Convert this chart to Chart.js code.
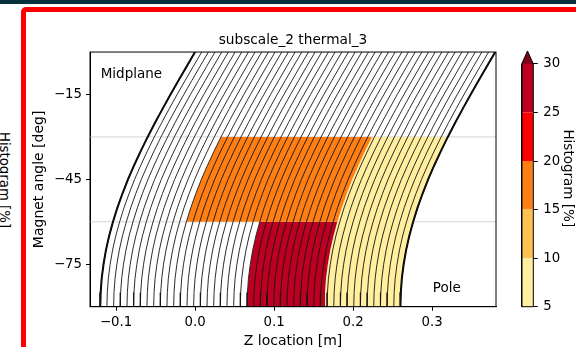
<!DOCTYPE html>
<html>
<head>
<meta charset="utf-8">
<script src="https://cdn.jsdelivr.net/npm/chart.js@4.4.1/dist/chart.umd.min.js"></script>
<style>
  html, body { margin: 0; padding: 0; }
  body { width: 576px; height: 347px; overflow: hidden; position: relative; background: #fff; font-family: 'DejaVu Sans', sans-serif; }
  #topbar { position: absolute; left: 0; top: 0; width: 576px; height: 4px; background: #07303d; }
  #frame { position: absolute; left: 21px; top: 7px; width: 600px; height: 400px; border: 5px solid #ff0000; border-radius: 5px; }
  #sidelabel { position: absolute; left: 4px; top: 180px; transform: translate(-50%, -50%) rotate(90deg); white-space: nowrap; font-size: 13.3px; color: #000; }
  #main { position: absolute; left: 0; top: 0; }
  #cbar { position: absolute; left: 500px; top: 0; }
</style>
</head>
<body>
<div id="topbar"></div>
<div id="frame"></div>
<div id="sidelabel">Histogram [%]</div>
<canvas id="main" width="576" height="350"></canvas>
<canvas id="cbar" width="76" height="347"></canvas>
<script>
// angle samples along each turn and the z shift of a turn at that angle
const angles = [0, -5, -10, -15, -20, -25, -30, -35, -40, -45, -50, -55, -60, -65, -70, -75, -80, -85, -90];
const arcShift = [0, -0.0105, -0.0208, -0.0311, -0.0410, -0.0507, -0.0600, -0.0688, -0.0771, -0.0849,
                  -0.0919, -0.0983, -0.1039, -0.1088, -0.1128, -0.1159, -0.1182, -0.1195, -0.1200];

// z position of each turn at the midplane (angle 0)
const turnPositions = [0, 0.0084, 0.0169, 0.0253, 0.0338, 0.0422, 0.0507, 0.0591, 0.0676, 0.0760,
  0.0844, 0.0929, 0.1013, 0.1098, 0.1182, 0.1267, 0.1351, 0.1436, 0.1520, 0.1604,
  0.1689, 0.1773, 0.1858, 0.1942, 0.2027, 0.2111, 0.2196, 0.2280, 0.2364, 0.2449,
  0.2533, 0.2618, 0.2702, 0.2787, 0.2871, 0.2956, 0.3040, 0.3124, 0.3209, 0.3293,
  0.3378, 0.3462, 0.3547, 0.3631, 0.3716, 0.3800];
const boundaryTurns = [0, 0.38];

// histogram regions (turn span and angle span)
const regionLeft = [0.093, 0.186, 0.284];
const regionRight = [0.284, 0.284, 0.38];
const regionTop = [-30, -60, -30];
const regionBottom = [-60, -90, -90];
const regionValue = [17.5, 27.5, 7.5];

const guideAngles = [-30, -60];
const xRange = [-0.133, 0.381];
const yRange = [-90, 0];
const xTicks = [-0.1, 0, 0.1, 0.2, 0.3];
const yTicks = [-15, -45, -75];

const annotationText = ['Midplane', 'Pole'];
const annotationX = [-0.1195, 0.301];
const annotationY = [-8.1, -83.5];

// colour bar
const binEdges = [5, 10, 15, 20, 25, 30];
const binColors = ['#ffef9f', '#ffc14f', '#ff7f14', '#ff0000', '#bd0021'];
const overColor = '#7f0019';
const overTip = 31.34;

Chart.defaults.font.family = "'DejaVu Sans', sans-serif";
Chart.defaults.color = '#000';

const minus = s => String(s).replace('-', '\u2212');

function turnPoints(x0, from, to) {
  const pts = [];
  angles.forEach((a, i) => {
    if (a <= from && a >= to) pts.push({x: x0 + arcShift[i], y: a});
  });
  return pts;
}

function colorFor(v) {
  for (let i = 0; i < binColors.length; i++) {
    if (v >= binEdges[i] && v < binEdges[i + 1]) return binColors[i];
  }
  return overColor;
}

const datasets = [];
turnPositions.forEach(x0 => {
  datasets.push({data: turnPoints(x0, 0, -90), borderColor: '#151515', borderWidth: 0.9, order: 0});
});
boundaryTurns.forEach(x0 => {
  datasets.push({data: turnPoints(x0, 0, -90), borderColor: '#000', borderWidth: 2, order: 0});
});
regionLeft.forEach((lo, i) => {
  const left = turnPoints(lo, regionTop[i], regionBottom[i]);
  const right = turnPoints(regionRight[i], regionTop[i], regionBottom[i]).reverse();
  datasets.push({
    data: left.concat(right, [left[0]]),
    borderWidth: 0, borderColor: 'transparent',
    backgroundColor: colorFor(regionValue[i]), fill: 'shape', order: 1
  });
});
guideAngles.forEach(a => {
  datasets.push({data: [{x: xRange[0], y: a}, {x: xRange[1], y: a}], borderColor: '#d4d4d4', borderWidth: 1, order: 2});
});

const framePlugin = {
  id: 'frameAndText',
  afterDatasetsDraw(chart) {
    const {ctx, chartArea, scales} = chart;
    ctx.save();
    ctx.font = "13.5px 'DejaVu Sans'";
    ctx.fillStyle = '#000';
    ctx.textAlign = 'left';
    ctx.textBaseline = 'middle';
    annotationText.forEach((t, i) => {
      ctx.fillText(t, scales.x.getPixelForValue(annotationX[i]), scales.y.getPixelForValue(annotationY[i]));
    });
    ctx.strokeStyle = '#000';
    ctx.lineWidth = 1;
    ctx.strokeRect(chartArea.left, chartArea.top, chartArea.right - chartArea.left, chartArea.bottom - chartArea.top);
    ctx.restore();
  }
};

new Chart(document.getElementById('main'), {
  type: 'line',
  data: {datasets: datasets},
  plugins: [framePlugin],
  options: {
    responsive: false,
    animation: false,
    events: [],
    layout: {padding: {left: 0, right: 80, top: 0, bottom: 0}},
    elements: {point: {radius: 0}, line: {tension: 0}},
    plugins: {
      legend: {display: false},
      tooltip: {enabled: false},
      title: {display: true, fullSize: false, text: 'subscale_2 thermal_3', color: '#000',
              font: {size: 13.7, weight: 'normal'}, padding: {top: 32.1, bottom: 3.5}}
    },
    scales: {
      x: {
        type: 'linear', min: xRange[0], max: xRange[1],
        afterBuildTicks: s => { s.ticks = xTicks.map(v => ({value: v})); },
        afterFit: s => { s.height = 43.3; },
        grid: {drawOnChartArea: false, drawTicks: true, tickLength: 4, color: '#000'},
        border: {color: '#000', width: 1},
        ticks: {color: '#000', font: {size: 13.3}, padding: 3.5, maxRotation: 0, autoSkip: false,
                callback: v => minus(v.toFixed(1))},
        title: {display: true, text: 'Z location [m]', color: '#000', font: {size: 14}, padding: {top: 0, bottom: 0}}
      },
      y: {
        type: 'linear', min: yRange[0], max: yRange[1],
        afterBuildTicks: s => { s.ticks = yTicks.map(v => ({value: v})); },
        afterFit: s => { s.width = 90; },
        grid: {drawOnChartArea: false, drawTicks: true, tickLength: 4, color: '#000'},
        border: {color: '#000', width: 1},
        ticks: {color: '#000', font: {size: 13.3}, padding: 4, autoSkip: false, callback: v => minus(v)},
        title: {display: true, text: 'Magnet angle [deg]', color: '#000', font: {size: 14}, padding: {top: 30.6, bottom: 0}}
      }
    }
  }
});

// colour bar as a second small chart
const cbSets = [];
binColors.forEach((c, i) => {
  const lo = binEdges[i], hi = binEdges[i + 1];
  cbSets.push({data: [{x: 0, y: lo}, {x: 1, y: lo}, {x: 1, y: hi}, {x: 0, y: hi}, {x: 0, y: lo}],
               borderWidth: 0, borderColor: 'transparent', backgroundColor: c, fill: 'shape', order: 1});
});
const topEdge = binEdges[binEdges.length - 1];
cbSets.push({data: [{x: 0, y: topEdge}, {x: 1, y: topEdge}, {x: 0.5, y: overTip}, {x: 0, y: topEdge}],
             borderWidth: 0, borderColor: 'transparent', backgroundColor: overColor, fill: 'shape', order: 1});
cbSets.push({data: [{x: 0, y: binEdges[0]}, {x: 1, y: binEdges[0]}, {x: 1, y: topEdge}, {x: 0.5, y: overTip}, {x: 0, y: topEdge}, {x: 0, y: binEdges[0]}],
             borderWidth: 1, borderColor: '#000', fill: false, clip: false, order: 0});

new Chart(document.getElementById('cbar'), {
  type: 'line',
  data: {datasets: cbSets},
  options: {
    responsive: false,
    animation: false,
    events: [],
    layout: {padding: {left: 21.7, right: 0, top: 49.9, bottom: 40.3}},
    elements: {point: {radius: 0}, line: {tension: 0}},
    plugins: {legend: {display: false}, tooltip: {enabled: false}},
    scales: {
      x: {type: 'linear', min: 0, max: 1, display: false},
      y: {
        type: 'linear', position: 'right', min: 5, max: 31.45,
        afterBuildTicks: s => { s.ticks = binEdges.map(v => ({value: v})); },
        afterFit: s => { s.width = 42.7; },
        grid: {drawOnChartArea: false, drawTicks: true, tickLength: 4.5, color: '#000'},
        border: {display: false},
        ticks: {color: '#000', font: {size: 13.3}, padding: 5.5, autoSkip: false},
        title: {display: true, text: 'Histogram [%]', color: '#000', font: {size: 13.5}, padding: {top: 0, bottom: 0}}
      }
    }
  }
});
</script>
</body>
</html>
